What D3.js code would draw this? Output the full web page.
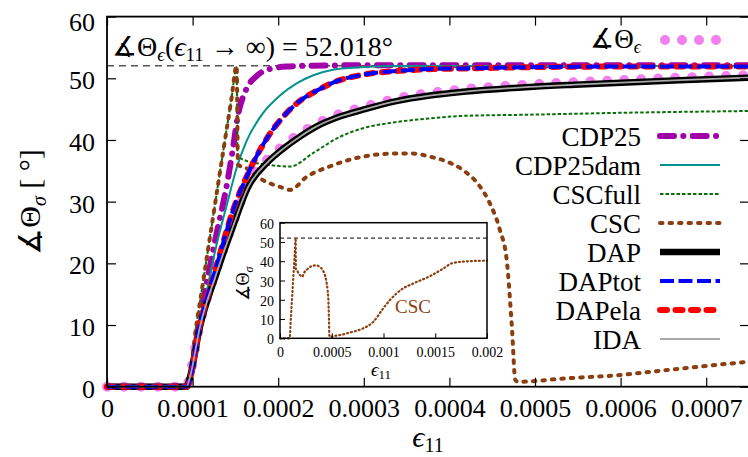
<!DOCTYPE html>
<html><head><meta charset="utf-8">
<script src="https://cdn.jsdelivr.net/npm/d3@7"></script>
<style>
body{margin:0;background:#fff}
svg{display:block}
</style></head>
<body><svg id="c" width="748" height="457"></svg>
<script>
// ---------------- data (strain eps11, angle in degrees) ----------------
const xTicks = [0, 0.0001, 0.0002, 0.0003, 0.0004, 0.0005, 0.0006, 0.0007];
const xTickLabels = ["0","0.0001","0.0002","0.0003","0.0004","0.0005","0.0006","0.0007"];
const yTicks = [0, 10, 20, 30, 40, 50, 60];
const yTickLabels = ["0","10","20","30","40","50","60"];
const insetXTicks = [0, 0.0005, 0.001, 0.0015, 0.002];
const insetXTickLabels = ["0","0.0005","0.001","0.0015","0.002"];
const insetYTicks = [0, 10, 20, 30, 40, 50, 60];
const thetaLimit = 52.018;

const thetaEpsE = [0, 0.93e-4, 0.97e-4, 1.086e-4, 1.28e-4, 1.47e-4, 1.65e-4, 1.87e-4, 2.06e-4, 2.25e-4, 2.45e-4, 2.72e-4, 2.99e-4, 3.38e-4, 3.77e-4, 4.16e-4, 4.94e-4, 5.53e-4, 6.69e-4, 7.5e-4];
const thetaEpsV = [0, 0, 2.0, 10.2, 19.0, 26.5, 33.0, 36.8, 39.1, 41.0, 42.6, 44.2, 45.3, 46.7, 47.6, 48.2, 49.0, 49.4, 50.1, 50.5];

const cdp25E = [0, 0.93e-4, 1.09e-4, 1.26e-4, 1.41e-4, 1.47e-4, 1.53e-4, 1.62e-4, 1.75e-4, 1.9e-4, 2.1e-4, 2.4e-4, 3.0e-4, 7.5e-4];
const cdp25V = [0, 0, 11.5, 23.5, 33.5, 38.5, 44.0, 48.0, 50.4, 51.5, 51.9, 52.05, 52.1, 52.1];

const cdp25damE = [0, 0.93e-4, 1.086e-4, 1.28e-4, 1.40e-4, 1.515e-4, 1.63e-4, 1.82e-4, 2.02e-4, 2.22e-4, 2.41e-4, 2.64e-4, 2.96e-4, 3.4e-4, 4.0e-4, 7.5e-4];
const cdp25damV = [0, 0, 10, 23, 29.5, 35.5, 39.8, 44.3, 47.2, 49.2, 50.5, 51.4, 51.8, 52.0, 52.0, 52.0];

const cscFullE = [0, 0.93e-4, 1.05e-4, 1.20e-4, 1.35e-4, 1.45e-4, 1.515e-4, 1.525e-4, 1.63e-4, 1.82e-4, 2.14e-4, 2.41e-4, 2.72e-4, 2.99e-4, 3.38e-4, 3.77e-4, 4.16e-4, 4.94e-4, 6.0e-4, 7.5e-4];
const cscFullV = [0, 0, 10.5, 24, 37.5, 46.3, 51.8, 37.5, 36.6, 36.1, 35.7, 37.9, 40.5, 41.9, 42.9, 43.5, 43.9, 44.1, 44.4, 44.7];

const cscE = [0, 0.93e-4, 1.05e-4, 1.20e-4, 1.35e-4, 1.45e-4, 1.515e-4, 1.53e-4, 1.63e-4, 1.82e-4, 2.02e-4, 2.14e-4, 2.33e-4, 2.6e-4, 2.99e-4, 3.38e-4, 3.57e-4, 3.77e-4, 3.97e-4, 4.16e-4, 4.36e-4, 4.47e-4, 4.59e-4, 4.67e-4, 4.73e-4, 4.77e-4, 4.8e-4, 5.37e-4, 6.0e-4, 6.54e-4, 7.49e-4, 8.05e-4, 9.02e-4, 9.98e-4, 10.63e-4, 11.27e-4, 11.9e-4, 12.9e-4, 14.5e-4, 15.8e-4, 16.6e-4, 17.7e-4, 20.0e-4];
const cscV = [0, 0, 10.5, 24, 37.5, 46.3, 52.0, 36.0, 35.4, 33.5, 32.4, 31.9, 34.0, 35.7, 37.3, 37.8, 37.8, 37.3, 36.5, 35.1, 32.4, 29.8, 25.4, 20.5, 9.7, 1.1, 0.8, 1.36, 1.9, 2.7, 4.05, 5.2, 8.6, 15.6, 19.9, 23.3, 25.9, 28.5, 32.3, 36.3, 38.9, 39.8, 40.3];

const dapE = [0, 0.93e-4, 0.97e-4, 1.086e-4, 1.28e-4, 1.47e-4, 1.65e-4, 1.87e-4, 2.06e-4, 2.25e-4, 2.45e-4, 2.72e-4, 2.99e-4, 3.38e-4, 3.77e-4, 4.16e-4, 4.94e-4, 5.53e-4, 6.69e-4, 7.5e-4];
const dapV = [0, 0, 1.6, 9.7, 18.4, 25.9, 32.4, 36.3, 38.6, 40.5, 42.2, 43.8, 44.9, 46.3, 47.2, 47.8, 48.6, 49.0, 49.7, 50.1];

const dapTotE = [0, 0.93e-4, 1.09e-4, 1.28e-4, 1.47e-4, 1.67e-4, 1.87e-4, 2.06e-4, 2.25e-4, 2.45e-4, 2.64e-4, 3.0e-4, 3.4e-4, 3.8e-4, 4.2e-4, 4.94e-4, 6.0e-4, 7.5e-4];
const dapTotV = [0, 0, 10.3, 19.6, 28.5, 35.2, 40.3, 43.8, 46.3, 48.0, 49.3, 50.6, 51.2, 51.5, 51.6, 51.8, 51.9, 51.9];

const dapElaE = [0, 0.93e-4, 1.09e-4, 1.28e-4, 1.47e-4, 1.67e-4, 1.87e-4, 2.06e-4, 2.25e-4, 2.45e-4, 2.64e-4, 3.0e-4, 3.4e-4, 3.8e-4, 4.2e-4, 4.94e-4, 6.0e-4, 7.5e-4];
const dapElaV = [0, 0, 10.3, 19.6, 28.5, 35.2, 40.3, 43.8, 46.3, 48.0, 49.3, 50.6, 51.2, 51.5, 51.6, 51.8, 51.9, 51.9];

const idaE = [0, 0.93e-4, 0.97e-4, 1.086e-4, 1.28e-4, 1.47e-4, 1.65e-4, 1.87e-4, 2.06e-4, 2.25e-4, 2.45e-4, 2.72e-4, 2.99e-4, 3.38e-4, 3.77e-4, 4.16e-4, 4.94e-4, 5.53e-4, 6.69e-4, 7.5e-4];
const idaV = [0, 0, 1.6, 9.7, 18.4, 25.9, 32.4, 36.3, 38.6, 40.5, 42.2, 43.8, 44.9, 46.3, 47.2, 47.8, 48.6, 49.0, 49.7, 50.1];

const seriesNames = ["CDP25","CDP25dam","CSCfull","CSC","DAP","DAPtot","DAPela","IDA"];

// ---------------- styles ----------------
const FONT = "Liberation Serif";
const styles = {
  theta:    {color:"#f27ff0", width:10, dash:"0,17", cap:"round"},
  CDP25:    {color:"#a200a8", width:6, dash:"14,9.3,0.1,9.3", cap:"round"},
  CDP25dam: {color:"#00928f", width:2, dash:null, cap:"butt"},
  CSCfull:  {color:"#0a6e0a", width:2, dash:"3.5,2", cap:"butt"},
  CSC:      {color:"#8b3f10", width:4, dash:"2.5,7", cap:"round"},
  DAP:      {color:"#000000", width:6.5, dash:null, cap:"butt"},
  DAPtot:   {color:"#0000ff", width:4, dash:"14,4.5", cap:"butt"},
  DAPela:   {color:"#ff0000", width:6, dash:"7,8.5", cap:"round"},
  IDA:      {color:"#a8a8a8", width:1.8, dash:null, cap:"butt"}
};

const svg = d3.select("#c");
const x = d3.scaleLinear().domain([0, 0.00075]).range([107, 749]);
const y = d3.scaleLinear().domain([0, 60]).range([386.7, 16.6]);
const zip = (E, V) => E.map((e, i) => ({e, v: V[i]}));
const mainLine = d3.line().x(d => x(d.e)).y(d => y(d.v)).curve(d3.curveMonotoneX);

function styled(sel, st) {
  sel.attr("fill", "none").attr("stroke", st.color).attr("stroke-width", st.width)
     .attr("stroke-linecap", st.cap).attr("stroke-linejoin", "round");
  if (st.dash) sel.attr("stroke-dasharray", st.dash);
  return sel;
}
function txt(parent, size) {
  return parent.append("text").style("font-family", FONT).style("font-size", size + "px").style("fill", "#000");
}

svg.append("defs").append("clipPath").attr("id", "clipMain")
  .append("rect").attr("x", 0).attr("y", 0).attr("width", 749).attr("height", 457);

// limit dashed line
svg.append("line").attr("x1", x(0)).attr("x2", x(0.00075))
  .attr("y1", y(thetaLimit)).attr("y2", y(thetaLimit))
  .attr("stroke", "#000").attr("stroke-width", 1).attr("stroke-dasharray", "7,5");

const g = svg.append("g").attr("clip-path", "url(#clipMain)");
const mainSeries = [
  ["theta", zip(thetaEpsE, thetaEpsV)],
  ["CDP25", zip(cdp25E, cdp25V)],
  ["CDP25dam", zip(cdp25damE, cdp25damV)],
  ["CSCfull", zip(cscFullE, cscFullV)],
  ["CSC", zip(cscE, cscV).filter(d => d.e <= 0.00076)],
  ["DAP", zip(dapE, dapV)],
  ["DAPela", zip(dapElaE, dapElaV)],
  ["DAPtot", zip(dapTotE, dapTotV)],
  ["IDA", zip(idaE, idaV)]
];
mainSeries.forEach(([k, d]) => styled(g.append("path").datum(d).attr("d", mainLine), styles[k]));

// frame + ticks
const axG = svg.append("g");
axG.append("g").attr("transform", `translate(0,${y(0)})`)
  .call(d3.axisBottom(x).tickValues(xTicks).tickSizeInner(-9).tickSizeOuter(0).tickFormat((d,i) => xTickLabels[i]))
  .call(s => { s.select(".domain").remove(); s.selectAll("text").attr("y", 30.5).attr("dy", 0)
    .style("font-size", "26px").style("font-family", FONT).style("fill", "#000"); });
axG.append("g").attr("transform", `translate(0,${y(60)})`)
  .call(d3.axisTop(x).tickValues(xTicks).tickSizeInner(-9).tickSizeOuter(0).tickFormat(""))
  .call(s => s.select(".domain").remove());
axG.append("g").attr("transform", `translate(${x(0)},0)`)
  .call(d3.axisLeft(y).tickValues(yTicks).tickSizeInner(-9).tickSizeOuter(0).tickFormat((d,i) => yTickLabels[i]))
  .call(s => { s.select(".domain").remove(); s.selectAll("text").attr("x", -12).attr("dy", 0)
    .attr("y", d => d === 60 ? 13.5 : 10.5)
    .style("font-size", "26px").style("font-family", FONT).style("fill", "#000"); });
axG.append("g").attr("transform", `translate(${x(0.00075)},0)`)
  .call(d3.axisRight(y).tickValues(yTicks).tickSizeInner(-9).tickSizeOuter(0).tickFormat(""))
  .call(s => s.select(".domain").remove());
axG.selectAll(".tick line").attr("stroke", "#000").attr("stroke-width", 1.2);
svg.append("rect").attr("x", x(0)).attr("y", y(60)).attr("width", x(0.00075) - x(0)).attr("height", y(0) - y(60))
  .attr("fill", "none").attr("stroke", "#000").attr("stroke-width", 1.8);

// rich text helper
function rich(parent, parts, size) {
  const t = txt(parent, size);
  parts.forEach(p => {
    const s = t.append("tspan").text(p.t);
    if (p.it) s.style("font-style", "italic");
    if (p.sub) s.style("font-size", Math.round(size * 0.68) + "px").attr("dy", p.sub);
    if (p.up) s.attr("dy", p.up);
  });
  return t;
}

// annotation
rich(svg, [
  {t:"∡Θ"}, {t:"ϵ", it:1, sub:5}, {t:"(", up:-5}, {t:"ϵ", it:1},
  {t:"11", sub:5}, {t:" → ∞) = 52.018°", up:-5}
], 28).attr("x", 112).attr("y", 56);

// legend for theta_eps
rich(svg, [{t:"∡Θ"}, {t:"ϵ", it:1, sub:5}], 27)
  .attr("x", 641).attr("y", 48).attr("text-anchor", "end");
styled(svg.append("line").attr("x1", 665).attr("x2", 716.5).attr("y1", 40).attr("y2", 40), styles.theta);

// main legend
seriesNames.forEach((n, i) => {
  const ry = 136 + i * 29;
  txt(svg, 27).attr("x", 641).attr("y", ry + 10).attr("text-anchor", "end").text(n);
  styled(svg.append("line").attr("x1", 660).attr("x2", 720).attr("y1", ry).attr("y2", ry), styles[n]);
});

// axis titles
rich(svg, [{t:"∡Θ"}, {t:"σ", it:1, sub:6}, {t:" [ °]", up:-6}], 30)
  .attr("text-anchor", "middle").attr("transform", "translate(40,202) rotate(-90)");
rich(svg, [{t:"ϵ", it:1}, {t:"11", sub:5}], 30)
  .attr("text-anchor", "middle").attr("x", 428).attr("y", 447);

// ---------------- inset ----------------
const ix = d3.scaleLinear().domain([0, 0.002]).range([280, 487]);
const iy = d3.scaleLinear().domain([0, 60]).range([338.3, 222.7]);
svg.append("rect").attr("x", 280).attr("y", 222.7).attr("width", 207).attr("height", 115.6).attr("fill", "#fff");
svg.append("line").attr("x1", ix(0)).attr("x2", ix(0.002)).attr("y1", iy(thetaLimit)).attr("y2", iy(thetaLimit))
  .attr("stroke", "#000").attr("stroke-width", 1).attr("stroke-dasharray", "4,3");
const insetLine = d3.line().x(d => ix(d.e)).y(d => iy(d.v)).curve(d3.curveMonotoneX);
svg.append("path").datum(zip(cscE, cscV)).attr("d", insetLine)
  .attr("fill", "none").attr("stroke", styles.CSC.color).attr("stroke-width", 2.2)
  .attr("stroke-dasharray", "1,3").attr("stroke-linecap", "round");
const inG = svg.append("g");
inG.append("g").attr("transform", `translate(0,${iy(0)})`)
  .call(d3.axisBottom(ix).tickValues(insetXTicks).tickSizeInner(-5).tickSizeOuter(0).tickFormat((d,i) => insetXTickLabels[i]))
  .call(s => { s.select(".domain").remove(); s.selectAll("text").attr("y", 18.4).attr("dy", 0)
    .style("font-size", "14px").style("font-family", FONT).style("fill", "#000"); });
inG.append("g").attr("transform", `translate(${ix(0)},0)`)
  .call(d3.axisLeft(iy).tickValues(insetYTicks).tickSizeInner(-5).tickSizeOuter(0))
  .call(s => { s.select(".domain").remove(); s.selectAll("text").attr("x", -6).attr("dy", 0).attr("y", 5.5)
    .style("font-size", "14px").style("font-family", FONT).style("fill", "#000"); });
inG.selectAll(".tick line").attr("stroke", "#000");
svg.append("rect").attr("x", 280).attr("y", 222.7).attr("width", 207).attr("height", 115.6)
  .attr("fill", "none").attr("stroke", "#000").attr("stroke-width", 1.5);
txt(svg, 19).attr("x", 413).attr("y", 313).attr("text-anchor", "middle")
  .style("fill", styles.CSC.color).text("CSC");
rich(svg, [{t:"∡Θ"}, {t:"σ", it:1, sub:4}], 18)
  .attr("text-anchor", "middle").attr("transform", "translate(249,284) rotate(-90)");
rich(svg, [{t:"ϵ", it:1}, {t:"11", sub:3}], 19)
  .attr("text-anchor", "middle").attr("x", 381).attr("y", 376);
</script></body></html>
